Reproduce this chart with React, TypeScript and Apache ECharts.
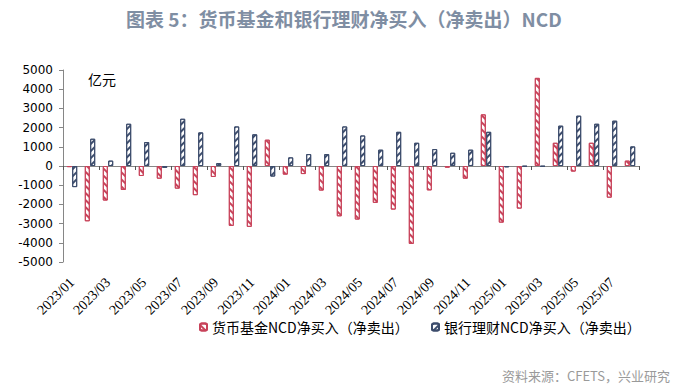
import React, { useEffect, useRef } from "react";
import * as echarts from "echarts";

const months = [
  "2023/01","2023/02","2023/03","2023/04","2023/05","2023/06","2023/07","2023/08","2023/09","2023/10","2023/11","2023/12",
  "2024/01","2024/02","2024/03","2024/04","2024/05","2024/06","2024/07","2024/08","2024/09","2024/10","2024/11","2024/12",
  "2025/01","2025/02","2025/03","2025/04","2025/05","2025/06","2025/07","2025/08",
];
const moneyFund = [
  -60, -2880, -1800, -1250, -520, -660, -1180, -1520, -570, -3120, -3170, 1370,
  -450, -420, -1280, -2620, -2790, -1920, -2270, -4060, -1270, -90, -660, 2690,
  -2950, -2220, 4590, 1210, -290, 1210, -1650, 280,
];
const bankWM = [
  -1100, 1420, 280, 2200, 1250, -100, 2460, 1750, 150, 2060, 1650, -550,
  450, 620, 620, 2060, 1590, 850, 1780, 1210, 880, 690, 850, 1780,
  -70, -30, -30, 2100, 2620, 2200, 2360, 1020,
];
const seriesNames = ["货币基金NCD净买入（净卖出）", "银行理财NCD净买入（净卖出）"];
const titleText = "图表 5：货币基金和银行理财净买入（净卖出）NCD";
const unitText = "亿元";
const sourceText = "资料来源：CFETS，兴业研究";

const RED = "#c8435a";
const BLUE = "#3c4c6c";

export default function App() {
  const ref = useRef<HTMLDivElement>(null);
  useEffect(() => {
    if (!ref.current) return;
    const chart = echarts.init(ref.current, undefined, { renderer: "svg" });
    const legendText = { fontFamily: "Noto Sans CJK SC", fontSize: 14, color: "#000" };
    chart.setOption({
      animation: false,
      backgroundColor: "#fff",
      title: {
        text: titleText,
        left: 121,
        top: 4,
        textStyle: { fontFamily: "Noto Sans CJK SC", fontSize: 19, fontWeight: "bold", color: "#7f8ea3" },
      },
      grid: { left: 63, right: 50, top: 70, bottom: 125, containLabel: false },
      legend: [
        { data: [seriesNames[0]], left: 199, top: 320, itemWidth: 7, itemHeight: 7, itemGap: 5, textStyle: legendText, padding: 0 },
        { data: [seriesNames[1]], left: 431, top: 320, itemWidth: 7, itemHeight: 7, itemGap: 5, textStyle: legendText, padding: 0 },
      ],
      xAxis: [
        {
          type: "category",
          data: months,
          position: "bottom",
          axisLine: { show: false, onZero: false },
          axisTick: { show: false },
          axisLabel: {
            interval: 1,
            rotate: 45,
            margin: 18,
            fontFamily: "Liberation Serif",
            fontSize: 14,
            color: "#000",
          },
        },
        {
          type: "category",
          data: months,
          position: "top",
          axisLine: { show: true, onZero: true, lineStyle: { color: "#868686", width: 1 } },
          axisTick: { show: true, inside: true, interval: 1, length: 4, lineStyle: { color: "#555" } },
          axisLabel: { show: false },
        },
      ],
      yAxis: {
        type: "value",
        min: -5000,
        max: 5000,
        interval: 1000,
        axisLine: { show: true, lineStyle: { color: "#868686" } },
        axisTick: { show: true, length: 4, lineStyle: { color: "#868686" } },
        splitLine: { show: false },
        axisLabel: {
          fontFamily: "DejaVu Sans",
          fontSize: 12,
          color: "#000",
          margin: 10,
          formatter: (v: number) => String(v),
        },
      },
      series: [
        {
          name: seriesNames[0],
          type: "bar",
          xAxisIndex: 0,
          data: moneyFund,
          barWidth: 5,
          barGap: "8%",
          itemStyle: {
            color: "#fff",
            borderColor: RED,
            borderWidth: 1,
            decal: { symbol: "rect", symbolSize: 1, color: RED, dashArrayX: [1, 0], dashArrayY: [2, 2.5], rotation: Math.PI / 4 },
          },
        },
        {
          name: seriesNames[1],
          type: "bar",
          xAxisIndex: 0,
          data: bankWM,
          barWidth: 5,
          itemStyle: {
            color: "#fff",
            borderColor: BLUE,
            borderWidth: 1,
            decal: { symbol: "rect", symbolSize: 1, color: BLUE, dashArrayX: [1, 0], dashArrayY: [2, 2.5], rotation: -Math.PI / 4 },
          },
        },
      ],
      graphic: [
        { type: "text", left: 88, top: 72, style: { text: unitText, fontFamily: "Noto Sans CJK SC", fontSize: 14, fill: "#000" } },
        { type: "text", right: 19, top: 369, style: { text: sourceText, fontFamily: "Noto Sans CJK SC", fontSize: 13, fill: "#9a9a9a" } },
      ],
    });
    return () => chart.dispose();
  }, []);
  return <div ref={ref} style={{ position: "fixed", left: 0, top: 0, width: 689, height: 387 }} />;
}
